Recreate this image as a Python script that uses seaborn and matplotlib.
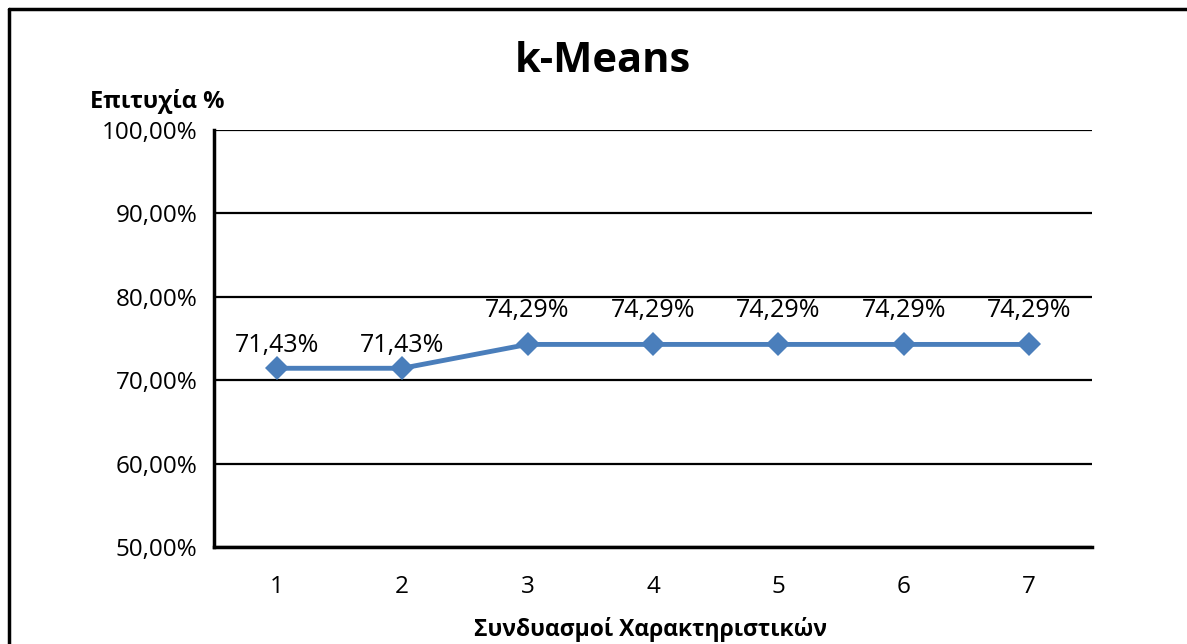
"""k-Means success rate per feature combination"""

import matplotlib
matplotlib.use('Agg')
import matplotlib.pyplot as plt
import matplotlib.ticker as mticker
from matplotlib.lines import Line2D
import pandas as pd
import seaborn as sns

sns.set_style('white')
plt.rcParams['font.family'] = ['Open Sans', 'DejaVu Sans']
plt.rcParams.update({'text.color': 'black', 'xtick.color': 'black', 'ytick.color': 'black',
                     'axes.labelcolor': 'black'})

# data
combos = [1, 2, 3, 4, 5, 6, 7]
success = [0.7143, 0.7143, 0.7429, 0.7429, 0.7429, 0.7429, 0.7429]
y_ticks = [0.5, 0.6, 0.7, 0.8, 0.9, 1.0]

df = pd.DataFrame({'combo': combos, 'success': success})

LINE_COL = '#4A7EBB'
# label offsets above each point (pt), as placed in the original
label_dy = [12, 12, 20, 20, 20, 20, 20]

fig = plt.figure(figsize=(11.87, 6.44), dpi=100)
ax = fig.add_axes([214 / 1187, 1 - 547 / 644, (1092 - 214) / 1187, (547 - 130) / 644])

sns.lineplot(data=df, x='combo', y='success', color=LINE_COL, linewidth=3.5,
             marker='D', markersize=12, markeredgewidth=0, ax=ax, zorder=5)

# labels above points
for xv, yv, dy in zip(df['combo'], df['success'], label_dy):
    ax.annotate(f"{yv * 100:.2f}%".replace('.', ','), (xv, yv), xytext=(0, dy),
                textcoords='offset points', ha='center', va='baseline', fontsize=18)

ax.set_xlim(0.5, 7.5)
ax.set_ylim(0.5, 1.0)
ax.set_yticks(y_ticks)
ax.yaxis.set_major_formatter(mticker.FuncFormatter(
    lambda v, _: f"{v * 100:.2f}%".replace('.', ',')))
ax.set_xticks(combos)
ax.set_xticklabels([str(c) for c in combos])
ax.xaxis.set_minor_locator(mticker.FixedLocator([c + 0.5 for c in [0] + combos]))
ax.tick_params(axis='x', which='major', length=0, pad=20, labelsize=17.5)
ax.tick_params(axis='x', which='minor', length=7, width=2, direction='out', color='black')
ax.tick_params(axis='y', length=7, width=2, direction='out', color='black', pad=5, labelsize=17.5)

ax.yaxis.grid(True, color='black', linewidth=1.6)
ax.set_axisbelow(True)
for side in ['top', 'right']:
    ax.spines[side].set_visible(False)
for side in ['left', 'bottom']:
    ax.spines[side].set_color('black')
    ax.spines[side].set_linewidth(2.5)

ax.set_xlabel('')
ax.set_ylabel('')
fig.text(650 / 1187, 1 - 630 / 644, 'Συνδυασμοί Χαρακτηριστικών', ha='center', va='center',
         fontsize=16.5, fontweight='bold')
fig.text(157 / 1187, 1 - 102 / 644, 'Επιτυχία %', ha='center', va='center',
         fontsize=17, fontweight='bold')
fig.text(603 / 1187, 1 - 62 / 644, 'k-Means', ha='center', va='center',
         fontsize=30, fontweight='bold')

# chart frame (only top and left visible in the crop)
fig.add_artist(Line2D([9 / 1187, 9 / 1187], [0, 1 - 9 / 644], color='black', linewidth=2.5,
                      transform=fig.transFigure))
fig.add_artist(Line2D([9 / 1187, 1], [1 - 9 / 644, 1 - 9 / 644], color='black', linewidth=2.5,
                      transform=fig.transFigure))

plt.savefig('out.png', dpi=100)
plt.close()
